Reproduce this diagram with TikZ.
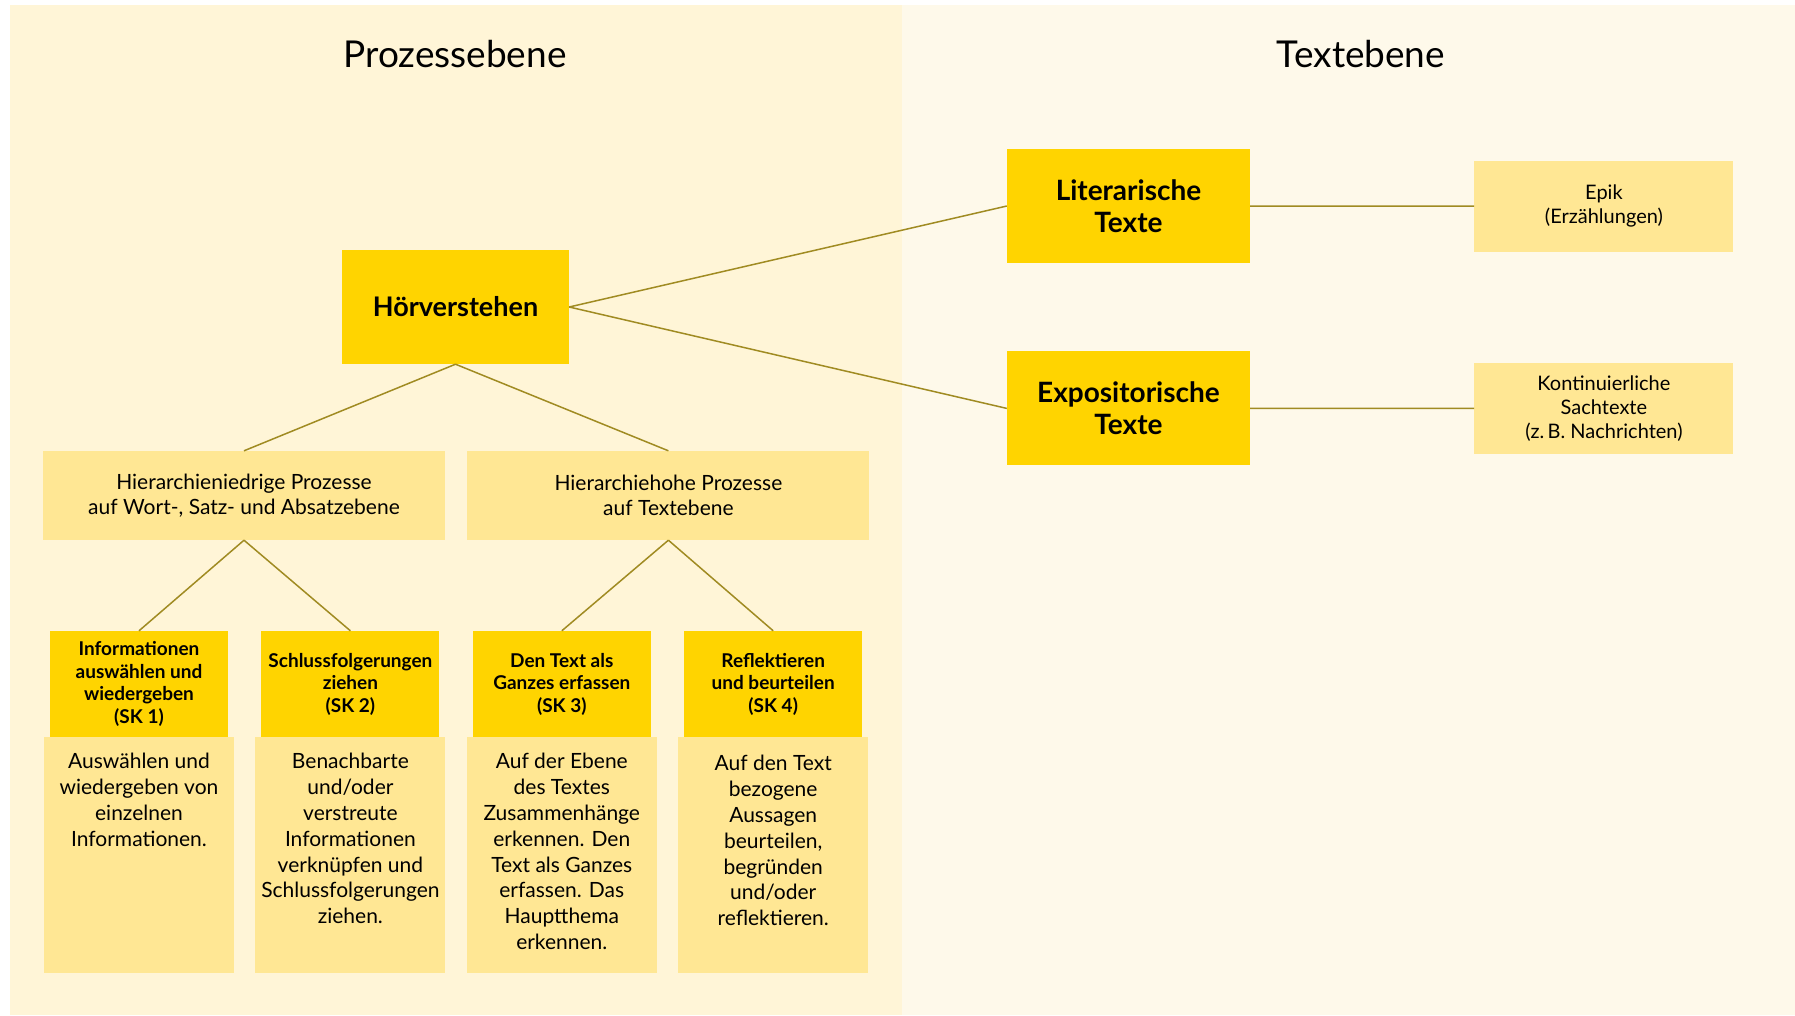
\documentclass[tikz,border=0pt]{standalone}
\usepackage{fontspec}
\setmainfont{Lato}
\usetikzlibrary{positioning}
\definecolor{gelbdunkel}{HTML}{FFD400}
\definecolor{gelbhell}{HTML}{FFE794}
\definecolor{flaecheprozess}{HTML}{FFF5D7}
\definecolor{flaechetext}{HTML}{FEF9EA}
\definecolor{linienfarbe}{HTML}{A08B22}
\tikzset{
  ebene/.style={font=\fontsize{37}{42}\selectfont},
  haupt/.style={fill=gelbdunkel, minimum width=227pt, minimum height=114pt, inner sep=0pt, align=center, font=\bfseries\fontsize{27}{32}\selectfont},
  textsorte/.style={haupt, minimum width=243pt, font=\bfseries\fontsize{28}{32}\selectfont},
  beispiel/.style={fill=gelbhell, minimum width=259pt, minimum height=91pt, inner sep=0pt, align=center, font=\fontsize{20}{24}\selectfont},
  prozess/.style={fill=gelbhell, minimum width=402pt, minimum height=89pt, inner sep=0pt, align=center, font=\fontsize{21}{25}\selectfont},
  sk/.style={fill=gelbdunkel, minimum width=178pt, minimum height=106pt, inner sep=0pt, align=center, font=\bfseries\fontsize{19}{22.5}\selectfont},
  beschreibung/.style={fill=gelbhell, minimum width=190pt, inner xsep=5pt, inner ysep=14pt, font=\fontsize{21}{25.8}\selectfont},
  verbindung/.style={draw=linienfarbe, line width=1.5pt}
}
\newcommand{\beschrtext}[1]{\parbox[t][208pt][t]{180pt}{\centering\vspace{2pt}#1}}

\begin{document}
\begin{tikzpicture}[x=1pt, y=-1pt, node distance=33pt]
  \useasboundingbox[fill=white] (0,0) rectangle (1795,1015);
  % Flaechen
  \fill[flaecheprozess] (10,5) rectangle (902,1015);
  \fill[flaechetext] (902,5) rectangle (1795,1015);
  \node[ebene] (prozessebene) at (455,54) {Prozessebene};
  \node[ebene] (textebene) at (1361,54) {Textebene};

  % Prozessebene
  \node[haupt] (hoeren) at (455.5,307) {Hörverstehen};
  \node[prozess] (niedrig) at (244,495.5) {Hierarchieniedrige Prozesse\\auf Wort-, Satz- und Absatzebene};
  \node[prozess, right=22pt of niedrig] (hoch) {Hierarchiehohe Prozesse\\auf Textebene};

  \node[sk] (sk_eins) at (139,684) {Informationen\\auswählen und\\wiedergeben\\(SK 1)};
  \node[sk, right=of sk_eins] (sk_zwei) {Schlussfolgerungen\\ziehen\\(SK 2)};
  \node[sk, right=of sk_zwei] (sk_drei) {Den Text als\\Ganzes erfassen\\(SK 3)};
  \node[sk, right=of sk_drei] (sk_vier) {Reflektieren\\und beurteilen\\(SK 4)};

  \node[beschreibung, below=0pt of sk_eins] (text_eins) {\beschrtext{Auswählen und\\wiedergeben von\\einzelnen\\Informationen.}};
  \node[beschreibung, below=0pt of sk_zwei] (text_zwei) {\beschrtext{Benachbarte\\und/oder\\verstreute\\Informationen\\verknüpfen und\\Schlussfolgerungen\\ziehen.}};
  \node[beschreibung, below=0pt of sk_drei] (text_drei) {\beschrtext{Auf der Ebene\\des Textes\\Zusammenhänge\\erkennen. Den\\Text als Ganzes\\erfassen. Das\\Hauptthema\\erkennen.}};
  \node[beschreibung, below=0pt of sk_vier] (text_vier) {\beschrtext{\vspace{2pt}Auf den Text\\bezogene\\Aussagen\\beurteilen,\\begründen\\und/oder\\reflektieren.}};

  % Textebene
  \node[textsorte] (literarisch) at (1128.5,206) {Literarische\\Texte};
  \node[textsorte, below=88pt of literarisch] (expositorisch) {Expositorische\\Texte};
  \node[beispiel, right=224pt of literarisch] (epik) {Epik\\(Erzählungen)};
  \node[beispiel, right=224pt of expositorisch] (sachtexte) {Kontinuierliche\\Sachtexte\\(z.\,B. Nachrichten)};

  % Verbindungen
  \draw[verbindung] (hoeren.south) -- (niedrig.north)
    (hoeren.south) -- (hoch.north)
    (hoeren.east) -- (literarisch.west)
    (hoeren.east) -- (expositorisch.west)
    (literarisch.east) -- (epik.west)
    (expositorisch.east) -- (sachtexte.west)
    (niedrig.south) -- (sk_eins.north)
    (niedrig.south) -- (sk_zwei.north)
    (hoch.south) -- (sk_drei.north)
    (hoch.south) -- (sk_vier.north);
\end{tikzpicture}
\end{document}
